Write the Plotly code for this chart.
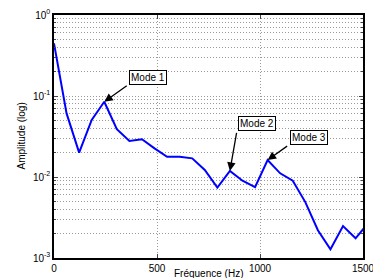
import math
import plotly.graph_objects as go

freq_hz = [0, 61, 122, 183, 244, 305, 366, 427, 488, 549, 610, 671, 732,
           793, 854, 915, 976, 1037, 1098, 1159, 1220, 1281, 1342, 1403, 1464, 1525]
amplitude = [0.447, 0.061, 0.020, 0.0506, 0.085, 0.039, 0.0278, 0.0292, 0.0226,
             0.0178, 0.0178, 0.0170, 0.0122, 0.0074, 0.0119, 0.0090, 0.0075,
             0.0162, 0.0111, 0.0090, 0.0049, 0.0022, 0.00128, 0.00248, 0.00175, 0.0027]

mode_labels = ["Mode 1", "Mode 2", "Mode 3"]
mode_index = [4, 14, 17]

x_ticks = [0, 500, 1000, 1500]
y_ticks = [0.001, 0.01, 0.1, 1]
y_ticktext = ["10<sup>-3</sup>", "10<sup>-2</sup>", "10<sup>-1</sup>", "10<sup>0</sup>"]
y_minor = [m * 10 ** e for e in (-3, -2, -1) for m in range(2, 10)]

FONT = "Liberation Sans, Arial, Helvetica, sans-serif"
GRIDC = "#9a9a9a"
DOT = "1px,2px"

fig = go.Figure()
fig.add_trace(go.Scatter(x=freq_hz, y=amplitude, mode="lines",
                         line=dict(color="#0000ff", width=2), cliponaxis=True,
                         showlegend=False))

# arrow tail offsets (px) and box placement relative to the pointed data point
offsets = [(24, -17), (7, -40), (21, -15)]
for lab, idx, (ox, oy) in zip(mode_labels, mode_index, offsets):
    xp, yp = freq_hz[idx], math.log10(amplitude[idx])
    fig.add_annotation(x=xp, y=yp, xref="x", yref="y", text=" ", showarrow=True,
                       ax=ox, ay=oy, arrowhead=2, arrowsize=1.3, arrowwidth=1.3,
                       arrowcolor="black", font=dict(size=1))
    fig.add_annotation(x=xp, y=yp, xref="x", yref="y", text=lab, showarrow=False,
                       xanchor="left", yanchor="bottom", xshift=ox + 1, yshift=-oy,
                       bordercolor="black", borderwidth=1, borderpad=1,
                       bgcolor="white", font=dict(family=FONT, size=10, color="black"))

fig.add_annotation(x=0.5, y=0, xref="paper", yref="paper", text="Fréquence (Hz)",
                   showarrow=False, yshift=-15, yanchor="middle",
                   font=dict(family=FONT, size=10, color="black"))
fig.add_annotation(x=0, y=0.5, xref="paper", yref="paper", text="Amplitude (log)",
                   showarrow=False, xshift=-33, textangle=-90, xanchor="center",
                   font=dict(family=FONT, size=10, color="black"))

fig.update_xaxes(range=[0, 1500], tickvals=x_ticks, ticks="inside", ticklen=4,
                 showline=True, linecolor="black", linewidth=1.5, mirror="ticks",
                 zeroline=False, automargin=False, ticklabeloverflow="allow",
                 tickfont=dict(family=FONT, size=10, color="black"),
                 showgrid=True, gridcolor=GRIDC, griddash=DOT, gridwidth=1)
fig.update_yaxes(type="log", range=[-3, 0], tickvals=y_ticks, ticktext=y_ticktext,
                 ticks="inside", ticklen=4, showline=True, linecolor="black",
                 linewidth=1.5, mirror="ticks", zeroline=False, automargin=False,
                 ticklabeloverflow="allow",
                 tickfont=dict(family=FONT, size=10, color="black"),
                 showgrid=True, gridcolor=GRIDC, griddash=DOT, gridwidth=1,
                 minor=dict(tickvals=y_minor, ticks="inside", ticklen=2,
                            showgrid=True, gridcolor=GRIDC, griddash=DOT))

fig.update_layout(width=373, height=278, margin=dict(l=54, r=10, t=15, b=20),
                  plot_bgcolor="white", paper_bgcolor="white",
                  font=dict(family=FONT, size=10, color="black"))
fig.write_html("out.html", config={"displayModeBar": False},
               post_script="document.body.style.margin='0';document.body.style.padding='0';")
